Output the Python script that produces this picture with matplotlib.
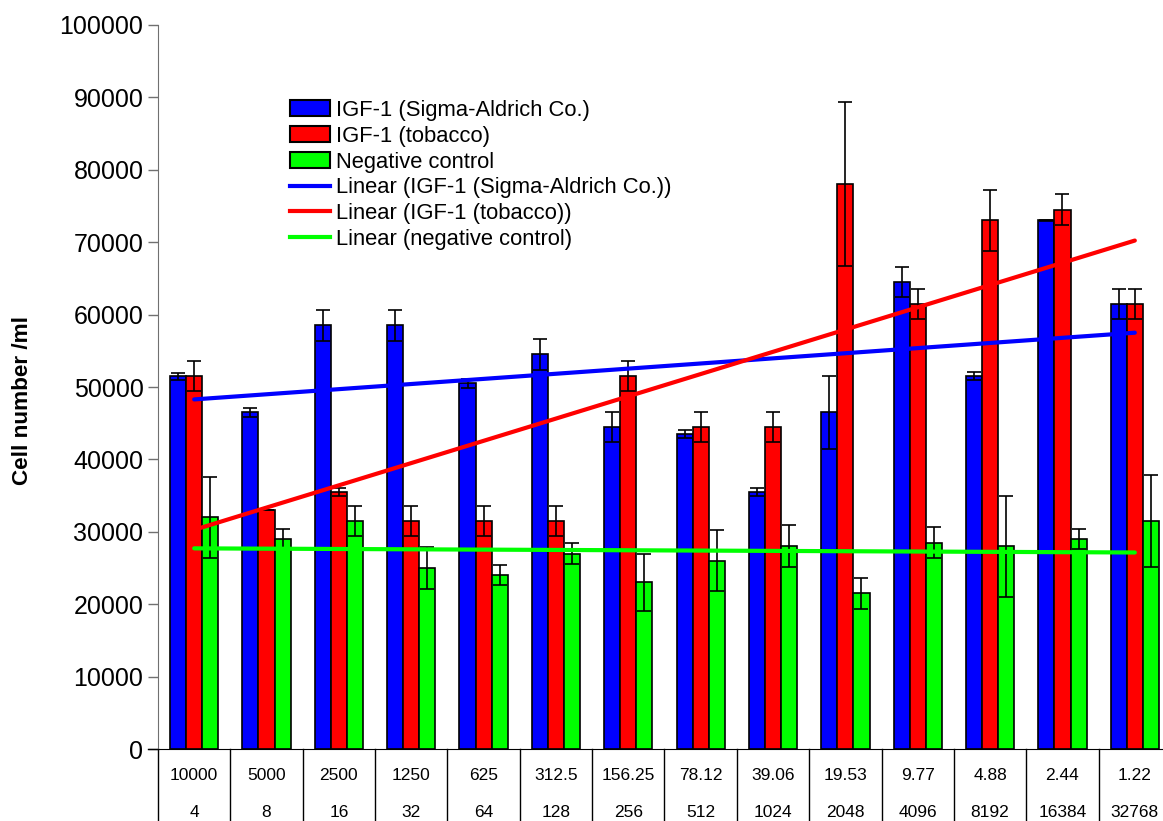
import numpy as np
import matplotlib
matplotlib.use("Agg")
import matplotlib.pyplot as plt
from matplotlib.patches import Patch
from matplotlib.lines import Line2D
from matplotlib.transforms import blended_transform_factory

plt.rcParams['font.family'] = ['Liberation Sans', 'DejaVu Sans']

# dilution row (top) and fold row (bottom) of the category table
conc_labels = ["10000", "5000", "2500", "1250", "625", "312.5", "156.25",
               "78.12", "39.06", "19.53", "9.77", "4.88", "2.44", "1.22"]
fold_labels = ["4", "8", "16", "32", "64", "128", "256", "512", "1024",
               "2048", "4096", "8192", "16384", "32768"]

sigma = [51500, 46500, 58500, 58500, 50500, 54500, 44500,
         43500, 35500, 46500, 64500, 51500, 73000, 61500]
sigma_err = [500, 600, 2100, 2100, 600, 2100, 2100,
             500, 500, 5000, 2100, 600, 100, 2100]
tobacco = [51500, 33000, 35500, 31500, 31500, 31500, 51500,
           44500, 44500, 78000, 61500, 73000, 74500, 61500]
tobacco_err = [2100, 0, 500, 2100, 2100, 2100, 2100,
               2100, 2100, 11300, 2100, 4200, 2100, 2100]
negative = [32000, 29000, 31500, 25000, 24000, 27000, 23000,
            26000, 28000, 21500, 28500, 28000, 29000, 31500]
negative_err = [5600, 1400, 2100, 2900, 1400, 1400, 4000,
                4200, 2900, 2100, 2100, 7000, 1400, 6300]

BLUE, RED, GREEN = "#0000ff", "#ff0000", "#00ff00"

fig = plt.figure(figsize=(11.63, 8.21), dpi=100)
ax = fig.add_axes([158/1163, 1 - 749/821, 1013/1163, (749 - 25)/821])

x = np.arange(len(conc_labels))
w = 1 / 4.5
series = [(sigma, sigma_err, BLUE), (tobacco, tobacco_err, RED),
          (negative, negative_err, GREEN)]
for i, (vals, errs, col) in enumerate(series):
    pos = x + (i - 1) * w
    ax.bar(pos, vals, w, color=col, edgecolor="black", linewidth=1.2, zorder=2)
    ax.errorbar(pos, vals, yerr=errs, fmt="none", ecolor="black",
                elinewidth=1.2, capsize=4.7, capthick=1.2, zorder=3)

# linear trendlines (least squares on category index, as the spreadsheet did)
for vals, col in [(sigma, BLUE), (tobacco, RED), (negative, GREEN)]:
    k, b = np.polyfit(x + 1, vals, 1)
    ax.plot([x[0], x[-1]], [k * 1 + b, k * 14 + b], color=col, lw=3,
            solid_capstyle="round", zorder=4)

ax.set_xlim(-0.5, len(x) - 0.5)
ax.set_ylim(0, 100000)
ax.set_yticks(np.arange(0, 100001, 10000))
ax.tick_params(axis="y", labelsize=18, direction="out", length=7,
               color="#707070", width=1)
ax.set_xticks([])
for s in ["top", "right"]:
    ax.spines[s].set_visible(False)
ax.spines["left"].set_color("#707070")
ax.spines["bottom"].set_color("black")
fig.text(23/1163, 1 - 400/821, "Cell number /ml", rotation=90, fontsize=16.2,
         fontweight="bold", ha="center", va="center")

# category table under the axis
tr = blended_transform_factory(ax.transData, fig.transFigure)
for b in np.arange(-0.5, len(x), 1.0):
    ax.plot([b, b], [1 - 749/821, 0], color="black", lw=1, transform=tr,
            clip_on=False)
ax.plot([-0.5 - 0.14, -0.5], [1 - 749/821] * 2, color="black", lw=1,
        transform=tr, clip_on=False)
for xi, c, f in zip(x, conc_labels, fold_labels):
    ax.text(xi, 1 - 775/821, c, ha="center", va="center", fontsize=12.5,
            transform=tr)
    ax.text(xi, 1 - 812/821, f, ha="center", va="center", fontsize=12.5,
            transform=tr)

handles = [Patch(facecolor=BLUE, edgecolor="black", lw=1.5),
           Patch(facecolor=RED, edgecolor="black", lw=1.5),
           Patch(facecolor=GREEN, edgecolor="black", lw=1.5),
           Line2D([], [], color=BLUE, lw=3),
           Line2D([], [], color=RED, lw=3),
           Line2D([], [], color=GREEN, lw=3)]
labels = ["IGF-1 (Sigma-Aldrich Co.)", "IGF-1 (tobacco)", "Negative control",
          "Linear (IGF-1 (Sigma-Aldrich Co.))", "Linear (IGF-1 (tobacco))",
          "Linear (negative control)"]
fig.legend(handles, labels, loc="upper left", bbox_to_anchor=(290/1163, 1 - 100/821),
           frameon=False, fontsize=15.8, handlelength=1.8, handleheight=0.75,
           handletextpad=0.3, labelspacing=0.22, borderpad=0, borderaxespad=0)

fig.savefig("out.png", dpi=100)
